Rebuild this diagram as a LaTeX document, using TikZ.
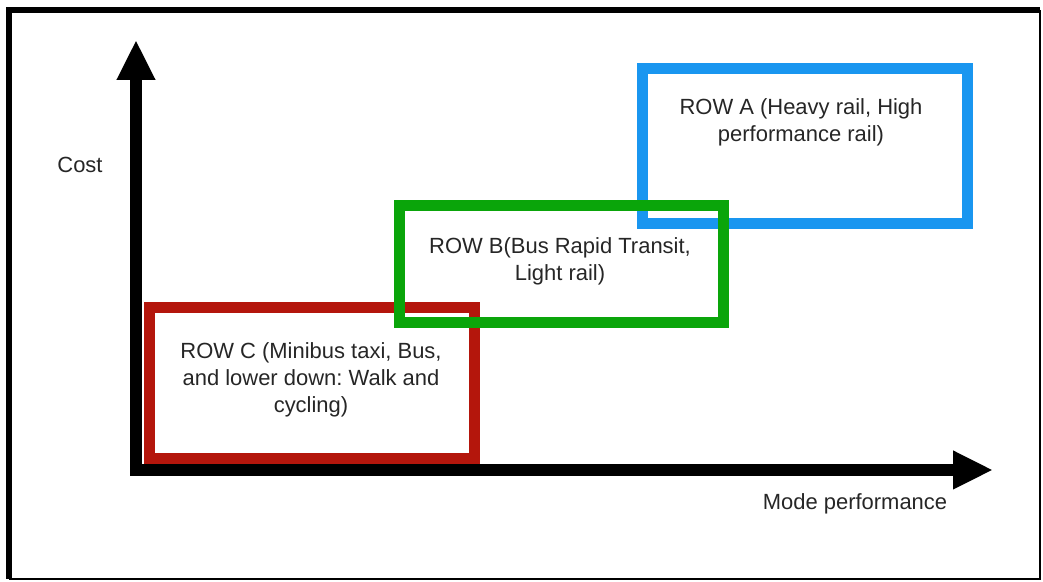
\documentclass[tikz,border=0pt]{standalone}
\usepackage{fontspec}
\setmainfont{Liberation Sans}
\usepackage{tikz}
\definecolor{Rowblue}{RGB}{25,150,240}
\definecolor{Rowgreen}{RGB}{10,165,10}
\definecolor{Rowred}{RGB}{180,22,12}
\usetikzlibrary{positioning, arrows.meta}
\frenchspacing

\begin{document}
\begin{tikzpicture}[x=1cm, y=1cm,
  row/.style={rectangle, line width=0.22cm, minimum width=6.5cm,
    inner sep=0pt},
  lbl/.style={align=center, inner sep=0pt, text=black!85,
    font=\fontsize{12.5}{15.4}\selectfont},
  axis/.style={-{Triangle[length=0.8cm, width=0.72cm]}, line width=0.23cm, black}
]
\useasboundingbox (0,0) rectangle (20.86,11.64);

%% ── Marco ────────────────────────────────────────────────────────────
\coordinate (TL) at (0.18, 11.44);
\coordinate (BR) at (20.80, 0.06);
\draw[line width=0.11cm] (TL |- BR) -- (TL) -- (BR |- TL);
\draw[line width=0.04cm] (TL |- BR) -- (BR) -- (BR |- TL);

%% ── Ejes ─────────────────────────────────────────────────────────────
\coordinate (YO) at (2.72, 2.14);
\coordinate (YT) at (2.72, 10.84);
\coordinate (XO) at (2.60, 2.24);
\coordinate (XT) at (19.86, 2.24);
\draw[axis] (YO) -- (YT);
\draw[axis] (XO) -- (XT);

\node[lbl] (cost) at (1.60, 8.34) {Cost};
\node[lbl] (perf) at (17.10, 1.56) {Mode performance};

%% ── Cajas ROW ────────────────────────────────────────────────────────
\node[row, draw=Rowblue,  minimum height=3.10cm] (rowA) at (16.09, 8.71) {};
\node[row, draw=Rowred,   minimum height=3.02cm] (rowC) at (6.23, 3.97) {};
\node[row, draw=Rowgreen, minimum width=6.48cm, minimum height=2.34cm]
  (rowB) at (11.22, 6.35) {};

\node[lbl] (txtA) at (16.02, 9.20) {ROW A (Heavy rail, High\\performance rail)};
\node[lbl] (txtB) at (11.20, 6.42) {ROW B(Bus Rapid Transit,\\Light rail)};
\node[lbl] (txtC) at (6.22, 4.04)
  {ROW C (Minibus taxi, Bus,\\and lower down: Walk and\\cycling)};

\end{tikzpicture}
\end{document}
